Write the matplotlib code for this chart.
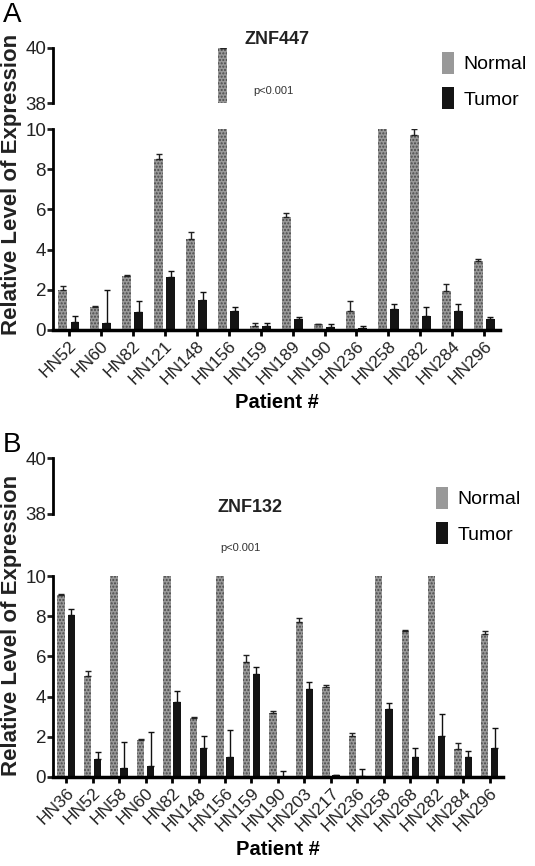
import numpy as np
import matplotlib
matplotlib.use("Agg")
import matplotlib.pyplot as plt
from matplotlib.patches import Patch

plt.rcParams["font.family"] = ["Liberation Sans", "DejaVu Sans"]
plt.rcParams["hatch.linewidth"] = 1.0

# panel A: ZNF447
a_patients = ["HN52", "HN60", "HN82", "HN121", "HN148", "HN156", "HN159",
              "HN189", "HN190", "HN236", "HN258", "HN282", "HN284", "HN296"]
a_normal = [2.0, 1.13, 2.7, 8.5, 4.52, 40.0, 0.22, 5.61, 0.28, 0.93, 15.0, 9.72, 1.94, 3.45]
a_normal_err = [0.2, 0.07, 0.05, 0.25, 0.35, 0.0, 0.13, 0.2, 0.03, 0.5, 0.0, 0.28, 0.36, 0.1]
a_tumor = [0.38, 0.33, 0.91, 2.62, 1.48, 0.95, 0.2, 0.55, 0.13, 0.08, 1.05, 0.71, 0.95, 0.53]
a_tumor_err = [0.32, 1.67, 0.54, 0.3, 0.42, 0.18, 0.13, 0.1, 0.17, 0.12, 0.23, 0.42, 0.33, 0.13]

# panel B: ZNF132
b_patients = ["HN36", "HN52", "HN58", "HN60", "HN82", "HN148", "HN156", "HN159",
              "HN190", "HN203", "HN217", "HN236", "HN258", "HN268", "HN282",
              "HN284", "HN296"]
b_normal = [9.08, 5.03, 12.0, 1.85, 12.0, 2.95, 12.0, 5.72, 3.2, 7.72, 4.5, 2.05,
            12.0, 7.25, 12.0, 1.38, 7.13]
b_normal_err = [0.05, 0.22, 0.0, 0.02, 0.0, 0.02, 0.0, 0.33, 0.1, 0.2, 0.08, 0.15,
                0.0, 0.05, 0.0, 0.29, 0.12]
b_tumor = [8.08, 0.88, 0.47, 0.53, 3.72, 1.42, 1.0, 5.12, 0.0, 4.37, 0.08, 0.03,
           3.37, 1.0, 2.05, 1.0, 1.45]
b_tumor_err = [0.29, 0.34, 1.26, 1.72, 0.56, 0.61, 1.33, 0.35, 0.3, 0.35, 0.03, 0.39,
               0.3, 0.45, 1.07, 0.3, 0.97]

fig = plt.figure(figsize=(5.35, 8.66), dpi=100)

normal_kw = dict(color="#999999", hatch=".....", edgecolor="#4a4a4a", linewidth=0)
tumor_kw = dict(color="#141414", linewidth=0)


def draw_panel(top_rect, low_rect, patients, normal, nerr, tumor, terr,
               title, title_xy, p_xy, leg_xy, label, label_xy, ylab_y):
    ax_top = fig.add_axes(top_rect)
    ax = fig.add_axes(low_rect)
    x = np.arange(len(patients))
    off, w = 0.19, 0.28
    for a in (ax_top, ax):
        a.bar(x - off, normal, w, **normal_kw)
        a.bar(x + off, tumor, w, **tumor_kw)
        a.errorbar(x - off, normal, yerr=[np.zeros(len(x)), nerr], fmt="none",
                   ecolor="#222222", elinewidth=1, capsize=2, capthick=1)
        a.errorbar(x + off, tumor, yerr=[np.zeros(len(x)), terr], fmt="none",
                   ecolor="#111111", elinewidth=1, capsize=2, capthick=1)
        a.set_xlim(-0.5, len(x) - 0.5)
        for s in ("top", "right"):
            a.spines[s].set_visible(False)
        a.spines["left"].set_linewidth(2)
        a.tick_params(axis="y", labelsize=13.5, width=2, length=4, pad=1,
                      colors="#222222")

    ax_top.set_ylim(38, 40)
    ax_top.set_yticks([38, 40])
    ax_top.spines["bottom"].set_visible(False)
    ax_top.set_xticks([])

    ax.set_ylim(0, 10)
    ax.set_yticks([0, 2, 4, 6, 8, 10])
    ax.spines["bottom"].set_linewidth(2.5)
    ax.set_xticks(x)
    ax.set_xticklabels(patients, rotation=45, ha="right", rotation_mode="anchor",
                       fontsize=12.5, color="#222222")
    ax.tick_params(axis="x", width=2, length=4, pad=2)
    ax.set_xlabel("Patient #", fontsize=14.5, fontweight="bold", labelpad=4)

    fig.text(title_xy[0], title_xy[1], title, fontsize=13, fontweight="bold",
             ha="center", va="center", color="#222222")
    fig.text(p_xy[0], p_xy[1], "p<0.001", fontsize=8, ha="center", va="center",
             color="#333333")
    fig.text(label_xy[0], label_xy[1], label, fontsize=20, ha="left", va="top")
    fig.text(0.021, ylab_y, "Relative Level of Expression", rotation=90,
             fontsize=16, fontweight="bold", ha="center", va="center",
             color="#222222")
    handles = [Patch(**normal_kw, label="Normal"), Patch(**tumor_kw, label="Tumor")]
    fig.legend(handles=handles, loc="upper left", bbox_to_anchor=leg_xy,
               frameon=False, fontsize=14, handlelength=0.65, handleheight=1.4,
               handletextpad=0.45, labelspacing=0.65, borderaxespad=0)


draw_panel([0.099, 0.881, 0.836, 0.064], [0.099, 0.619, 0.836, 0.232],
           a_patients, a_normal, a_normal_err, a_tumor, a_tumor_err,
           "ZNF447", (277 / 535, 1 - 39 / 866), (273 / 535, 1 - 91 / 866),
           (434 / 535, 1 - 44 / 866), "A", (0.005, 0.998), 1 - 184 / 866)

draw_panel([0.099, 0.4065, 0.841, 0.0645], [0.099, 0.1028, 0.841, 0.232],
           b_patients, b_normal, b_normal_err, b_tumor, b_tumor_err,
           "ZNF132", (250 / 535, 1 - 507 / 866), (240 / 535, 1 - 548 / 866),
           (428 / 535, 1 - 479 / 866), "B", (0.005, 1 - 432 / 866), 1 - 625 / 866)

fig.savefig("out.png", dpi=100)
